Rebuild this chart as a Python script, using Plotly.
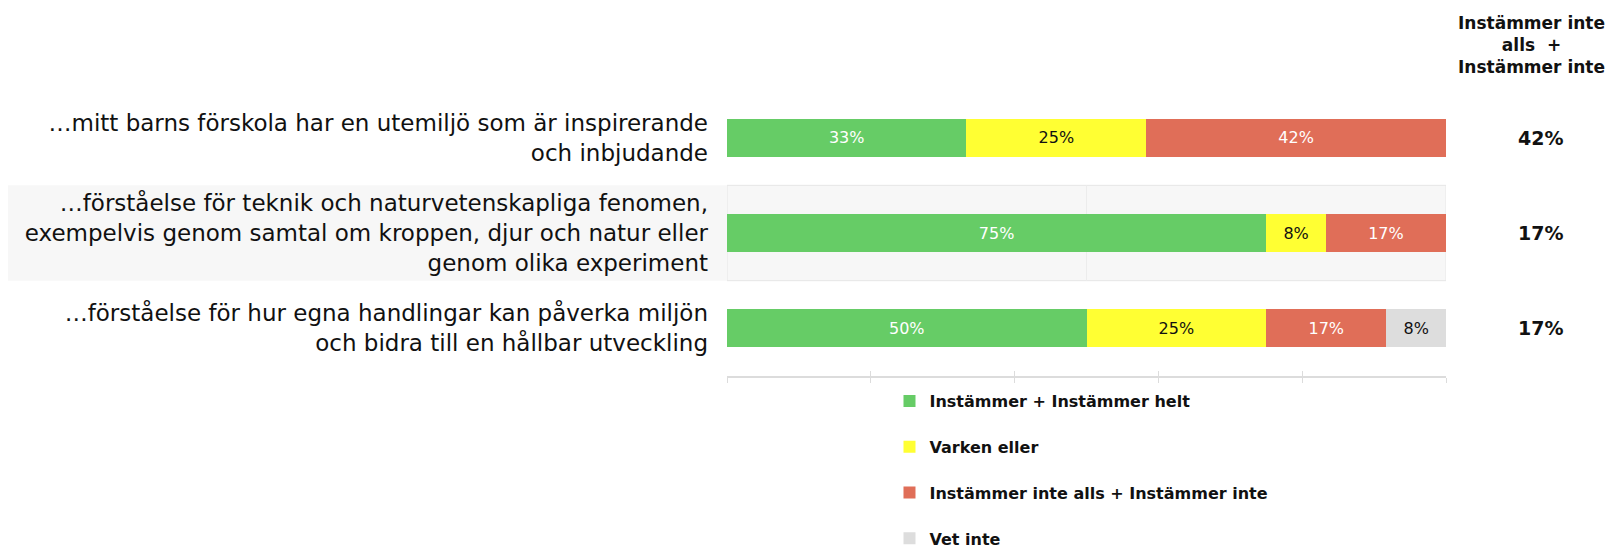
import plotly.graph_objects as go

categories = [
    "…mitt barns förskola har en utemiljö som är inspirerande<br>och inbjudande",
    "…förståelse för teknik och naturvetenskapliga fenomen,<br>exempelvis genom samtal om kroppen, djur och natur eller<br>genom olika experiment",
    "…förståelse för hur egna handlingar kan påverka miljön<br>och bidra till en hållbar utveckling",
]
series_names = [
    "Instämmer + Instämmer helt",
    "Varken eller",
    "Instämmer inte alls + Instämmer inte",
    "Vet inte",
]
agree = [33.3, 75.0, 50.0]
neither = [25.0, 8.3, 25.0]
disagree = [41.7, 16.7, 16.7]
dont_know = [0.0, 0.0, 8.3]
summary_header = "Instämmer inte<br>alls\u00a0 +<br>Instämmer inte"
summary_values = disagree

colors = ["#66cc66", "#ffff33", "#e06e58", "#dddddd"]
text_colors = ["#ffffff", "#111111", "#ffffff", "#111111"]
FONT = "DejaVu Sans"

fig = go.Figure()
for i, (name, vals) in enumerate(zip(series_names, [agree, neither, disagree, dont_know])):
    fig.add_trace(go.Bar(
        y=categories, x=vals, name=name, orientation="h",
        marker=dict(color=colors[i], line=dict(width=0)),
        text=[f"{round(v)}%" if v > 0 else "" for v in vals],
        textposition="inside", insidetextanchor="middle",
        textfont=dict(family=FONT, size=16, color=text_colors[i]),
        constraintext="none", legendgroup=f"g{i}",
        hoverinfo="skip",
    ))

# highlighted band behind the middle row
fig.add_shape(type="rect", xref="paper", yref="y", x0=-1.0, x1=0, y0=0.5, y1=1.5,
              fillcolor="#f7f7f7", line=dict(width=0), layer="below")
fig.add_shape(type="rect", xref="x", yref="y", x0=0, x1=100, y0=0.5, y1=1.5,
              fillcolor="#f7f7f7", line=dict(width=1, color="#e6e6e6"), layer="below")
fig.add_shape(type="line", xref="x", yref="y", x0=50, x1=50, y0=0.5, y1=1.5,
              line=dict(width=1, color="#ececec"), layer="below")

# summary column
fig.add_annotation(text=summary_header, xref="paper", yref="paper", x=1.119, y=1.157,
                   xanchor="center", yanchor="middle", showarrow=False,
                   font=dict(family=FONT, size=17, color="#111", weight="bold"))
for cat, v in zip(categories, summary_values):
    fig.add_annotation(text=f"{round(v)}%", xref="paper", yref="y", x=1.131, y=cat,
                       xanchor="center", yanchor="middle", showarrow=False,
                       font=dict(family=FONT, size=19, color="#111", weight="bold"))

fig.update_layout(
    barmode="stack", bargap=0.6,
    width=1615, height=547,
    margin=dict(l=719, r=177, t=82, b=179, autoexpand=False),
    plot_bgcolor="rgba(0,0,0,0)", paper_bgcolor="#ffffff",
    font=dict(family=FONT, color="#111"),
    xaxis=dict(range=[0, 100], showgrid=False, zeroline=False, showline=True,
               linecolor="#dcdcdc", linewidth=2, ticks="outside", ticklen=5,
               tickcolor="#dcdcdc", tickwidth=1, tickvals=[0, 20, 40, 60, 80, 100],
               showticklabels=False, fixedrange=True),
    xaxis2=dict(range=[0, 100], overlaying="x", side="bottom", showgrid=False,
                zeroline=False, showline=False, ticks="inside", ticklen=5,
                tickcolor="#dcdcdc", tickwidth=1, tickvals=[0, 20, 40, 60, 80, 100],
                showticklabels=False),
    yaxis=dict(categoryorder="array", categoryarray=categories, autorange="reversed",
               showgrid=False, zeroline=False, ticks="", ticklabelstandoff=18,
               tickfont=dict(family=FONT, size=23, color="#111")),
    legend=dict(orientation="v", x=0.226, y=-0.028, xanchor="left", yanchor="top",
                font=dict(family=FONT, size=16, color="#111", weight="bold"),
                tracegroupgap=22, traceorder="grouped", bgcolor="rgba(0,0,0,0)"),
    showlegend=True,
)
# invisible helper trace so the overlaid axis draws its inward ticks
fig.add_trace(go.Scatter(x=[0], y=[categories[0]], xaxis="x2", mode="markers",
                         marker=dict(opacity=0), showlegend=False, hoverinfo="skip"))

fig.write_html("out.html")
